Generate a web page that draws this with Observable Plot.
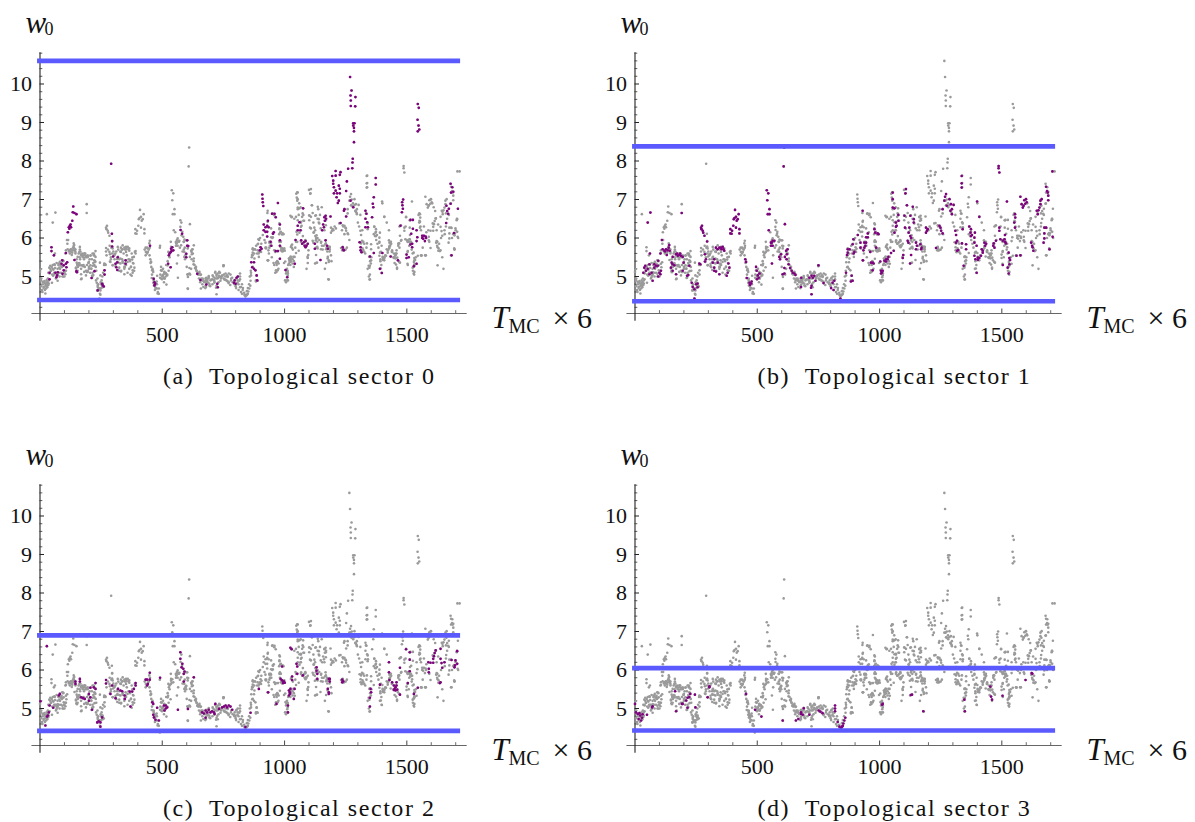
<!DOCTYPE html>
<html><head><meta charset="utf-8">
<script src="https://cdn.jsdelivr.net/npm/d3@7"></script>
<script src="https://cdn.jsdelivr.net/npm/@observablehq/plot@0.6"></script>
<style>
html,body{margin:0;padding:0;background:#fff;}
#page{position:relative;width:1195px;height:822px;overflow:hidden;}
.panel{position:absolute;width:595px;height:432px;}
.panel svg{display:block;background:transparent;}
.cap{position:absolute;top:362px;white-space:pre;font:24px "Liberation Serif",serif;letter-spacing:1.55px;line-height:28px;color:#111;}
</style></head><body><div id="page"></div>
<script>
const sector0 = [[39,5.1],[39,4.93],[47,5.76],[47,5.66],[57,5.55],[63,5.1],[70,5.03],[73,5.11],[67,4.98],[88,5.33],[91,5.42],[97,5.29],[97,5.16],[92,5.07],[106,5.33],[108,5.24],[111,5.37],[106,5.61],[114,6.15],[118,6.28],[122,6.32],[127,6.28],[120,6.24],[125,6.35],[132,6.45],[136,6.82],[134,6.67],[141,6.65],[149,6.62],[141,5.43],[149,5.14],[151,5.11],[211,4.96],[223,5.14],[236,4.64],[254,4.81],[257,4.77],[261,4.74],[264,5.16],[264,5.05],[291,7.93],[294,6.11],[295,5.92],[295,5.78],[299,5.52],[309,5.33],[316,5.37],[318,5.5],[312,5.24],[316,5.17],[350,5.42],[350,5.33],[450,5.8],[465,4.94],[468,4.85],[468,4.77],[471,4.81],[524,5.33],[527,5.55],[534,5.63],[536,5.72],[541,5.76],[534,5.24],[545,5.68],[530,5.6],[538,5.66],[575,6.21],[581,6.11],[602,5.94],[602,5.8],[598,5.59],[598,5.5],[606,5.79],[643,5.07],[656,4.91],[680,4.79],[725,4.81],[727,4.72],[796,4.9],[800,4.81],[804,4.97],[809,5],[793,4.84],[864,5.37],[875,5.37],[868,5.24],[875,5.2],[881,5.16],[886,5.03],[888,4.9],[899,5.68],[902,5.76],[906,5.72],[909,7.13],[910,7.02],[911,6.93],[913,6.83],[915,6.35],[922,6.28],[929,6.32],[915,6.2],[922,6.16],[929,6.16],[935,6.28],[932,6.45],[929,6.04],[943,5.9],[946,5.8],[949,6.63],[959,6.63],[964,6.54],[953,6.11],[956,6.15],[973,6.91],[981,6.35],[981,5.94],[981,5.8],[981,5.46],[964,5.66],[973,5.66],[1004,5.17],[1011,4.98],[1042,5.33],[1045,5.95],[1054,6.2],[1065,6.2],[1054,6.32],[1061,6.41],[1076,6.77],[1068,5.94],[1072,5.85],[1079,5.89],[1086,5.92],[1090,5.8],[1082,5.8],[1095,5.85],[1086,5.76],[1124,5.85],[1124,5.72],[1147,5.43],[1154,6.2],[1161,6.28],[1158,6.35],[1165,6.45],[1168,6.58],[1163,6.54],[1170,6.5],[1188,6.56],[1168,5.94],[1174,5.8],[1177,5.72],[1195,7.61],[1199,7.49],[1209,7.74],[1209,7.62],[1229,7.71],[1226,7.64],[1199,7.41],[1202,7.32],[1209,7.23],[1222,7.36],[1226,7.28],[1202,7.16],[1215,7.16],[1226,7.16],[1213,7.06],[1222,6.97],[1218,6.91],[1229,6.39],[1243,6.71],[1245,6.75],[1252,6.56],[1238,5.76],[1243,5.68],[1240,5.7],[1255,7.47],[1252,7.22],[1260,7.8],[1277,7.81],[1270,6.97],[1281,6.8],[1265,10.6],[1268,10.18],[1274,9.83],[1270,9.7],[1290,9.66],[1271,9.57],[1271,9.43],[1289,9.42],[1281,8.98],[1286,8.98],[1281,8.92],[1284,8.86],[1284,8.77],[1284,8.49],[1279,8.06],[1278,7.96],[1307,5.89],[1311,5.76],[1311,5.68],[1315,5.63],[1331,6.71],[1335,6.63],[1331,6.5],[1338,6.41],[1331,6.28],[1341,6.28],[1349,5.52],[1365,5.61],[1358,6.54],[1363,6.8],[1361,6.89],[1365,7.06],[1373,7.56],[1373,7.39],[1390,5.2],[1398,5.09],[1400,5.61],[1434,5.52],[1464,5.42],[1474,6.32],[1481,6.93],[1482,6.85],[1484,6.76],[1480,6.67],[1485,7],[1499,5.57],[1499,5.48],[1508,5.5],[1515,6.47],[1525,6.47],[1518,6.11],[1525,6.24],[1515,5.83],[1522,5.76],[1522,5.85],[1540,6.2],[1543,6.02],[1540,5.92],[1529,5.27],[1540,5.33],[1545,9.48],[1549,9.38],[1544,9.07],[1548,8.92],[1545,8.77],[1551,8.82],[1563,6.06],[1570,6.06],[1577,6.04],[1567,5.98],[1574,5.92],[1563,6],[1579,6],[1662,6.84],[1672,6.76],[1665,6.7],[1669,6.63],[1679,6.89],[1661,6.39],[1683,5.55],[1693,6.13],[1709,6.76],[1679,7.41],[1686,7.32],[1690,7.2],[1681,7.18]];
const sector1 = [[34,5.1],[38,5.23],[42,5.28],[45,5.15],[52,5.2],[59,5.32],[63,6.66],[52,6.4],[61,5.6],[59,5.06],[68,5.1],[72,4.89],[79,5.32],[86,5.28],[93,5.28],[79,5.23],[95,5.41],[100,5.1],[104,5.06],[95,5],[106,5.15],[104,5.6],[113,5.71],[110,5.95],[120,5.67],[127,5.71],[130,5.56],[123,5.65],[138,5.75],[140,5.82],[134,5.68],[142,5.67],[154,5.51],[150,5.36],[147,5.23],[154,5.15],[154,5.32],[168,5.58],[175,5.54],[181,5.56],[188,5.54],[185,5.6],[172,5.6],[195,5.51],[161,5.29],[168,5.06],[195,5.15],[199,5.36],[222,5.28],[213,5.02],[218,5.04],[191,6.65],[232,4.84],[236,4.73],[243,4.67],[250,4.8],[256,4.82],[256,4.72],[243,4.43],[263,5.34],[267,5.32],[270,6.27],[272,6.23],[277,6.19],[274,6.32],[279,6.14],[284,6.06],[295,5.91],[286,5.58],[290,5.45],[286,5.39],[318,5.36],[324,5.23],[324,5.15],[331,5.75],[338,5.71],[345,5.75],[352,5.75],[359,5.77],[365,5.67],[354,5.71],[362,5.71],[324,5.45],[338,5.36],[345,5.06],[331,5.13],[375,5.02],[379,5.1],[382,5.34],[386,5.23],[390,6.23],[397,6.19],[390,6.12],[395,6.11],[402,6.32],[413,6.27],[427,6.23],[404,6.49],[409,6.73],[413,6.55],[420,6.49],[424,6.62],[407,6.52],[416,6.45],[427,6.12],[451,5.45],[454,5.38],[457,4.96],[468,4.84],[475,4.82],[470,4.78],[477,4.87],[495,5.25],[498,5.15],[502,5.03],[506,4.97],[499,4.93],[509,5.08],[539,7.24],[545,7.16],[541,6.98],[550,6.75],[543,6.62],[550,6.62],[547,6.2],[556,5.8],[563,5.93],[570,5.93],[559,5.88],[563,5.8],[556,5.88],[560,5.34],[590,5.51],[597,5.58],[593,5.45],[608,7.86],[610,8.35],[613,6.36],[618,5.67],[624,5.71],[621,5.58],[620,5.45],[613,5.51],[604,5.06],[611,5.08],[611,5.22],[628,5.32],[634,5.22],[641,5.15],[645,5.1],[652,5.08],[656,5.04],[679,4.73],[680,4.97],[720,4.71],[722,4.76],[722,4.54],[713,4.97],[727,4.97],[733,5.02],[722,5.02],[738,4.89],[750,5.29],[771,4.83],[808,4.84],[815,4.89],[802,4.7],[812,4.65],[840,4.43],[863,5.1],[886,5.02],[890,4.89],[883,4.87],[870,5.71],[877,5.71],[870,5.62],[867,5.56],[890,5.84],[893,5.97],[897,5.64],[894,5.6],[911,6.08],[931,6.71],[922,5.88],[922,5.75],[938,5.88],[945,5.88],[942,5.8],[938,5.75],[934,5.68],[952,6.12],[952,6.02],[945,6.02],[992,6.12],[996,6.1],[979,6.23],[982,6.14],[986,5.75],[962,5.64],[932,5.42],[965,5.36],[972,5.36],[976,5.34],[972,5.16],[1006,5.15],[1013,5.15],[1006,5.08],[1009,5.1],[1003,5.39],[1020,5.41],[1027,5.45],[1033,5.45],[1027,5.39],[1036,5.51],[1047,5.61],[1054,7.18],[1054,7.01],[1054,6.79],[1061,6.77],[1067,6.4],[1070,6.32],[1061,6.14],[1067,6.29],[1077,6.6],[1077,6.45],[1058,5.67],[1097,5.56],[1095,5.48],[1102,6.58],[1104,6.27],[1108,7.27],[1106,7.16],[1112,6.85],[1118,5.88],[1119,6.14],[1122,6.27],[1126,6.05],[1126,6.58],[1136,6.81],[1140,6.49],[1140,6.4],[1115,5.93],[1129,5.56],[1125,5.34],[1129,6],[1149,5.88],[1149,5.71],[1153,5.8],[1167,5.84],[1172,5.75],[1170,5.71],[1190,6.27],[1194,6.19],[1197,6.23],[1190,6.14],[1231,5.74],[1245,6.32],[1252,6.19],[1258,6.12],[1249,6.27],[1258,6.75],[1265,6.97],[1272,7.14],[1268,7.07],[1275,6.84],[1286,7.01],[1290,6.71],[1296,6.75],[1296,6.62],[1303,6.86],[1292,6.88],[1310,6.19],[1313,6.08],[1317,5.93],[1313,5.88],[1317,5.67],[1322,5.69],[1336,7.61],[1336,7.42],[1336,7.31],[1340,6.23],[1337,5.86],[1354,5.84],[1354,5.71],[1344,5.28],[1367,6.3],[1374,6.23],[1372,6.14],[1374,6.05],[1378,6.08],[1388,6.01],[1390,6.14],[1388,5.88],[1399,6.95],[1408,6.55],[1397,5.8],[1397,5.1],[1388,5.54],[1392,5.45],[1402,5.49],[1408,5.48],[1415,5.54],[1402,5.43],[1422,5.62],[1418,5.71],[1429,5.88],[1436,5.85],[1432,5.8],[1422,5.67],[1467,5.86],[1470,5.75],[1476,5.93],[1465,5.8],[1487,7.87],[1487,7.81],[1490,7.7],[1490,6.27],[1490,6.19],[1494,5.97],[1504,5.93],[1513,6.08],[1511,5.97],[1513,5.9],[1517,5.86],[1521,6.95],[1524,5.23],[1504,5.3],[1528,5.62],[1531,5.48],[1534,5.43],[1531,5.32],[1528,5.08],[1554,6.62],[1555,6.53],[1551,6.4],[1554,6.27],[1560,5.54],[1576,5.55],[1576,7.07],[1581,6.88],[1586,6.79],[1592,6.98],[1599,7.01],[1596,6.89],[1589,6.84],[1602,6.93],[1620,5.88],[1624,5.8],[1626,5.76],[1629,5.67],[1643,6.71],[1647,6.62],[1650,6.72],[1654,6.79],[1658,6.97],[1663,7.01],[1658,6.88],[1674,6.27],[1681,6.27],[1674,6.12],[1674,5.99],[1671,5.88],[1681,7.33],[1685,7.22],[1688,7.18],[1690,7.1],[1690,6.98],[1695,5.71],[1708,6.03],[1707,7.73]];
const sector2 = [[2,5.19],[22,4.56],[29,4.79],[32,4.82],[36,4.9],[39,5.08],[54,5.02],[28,6.62],[77,5.34],[81,5.38],[145,5.7],[145,5.64],[163,5.77],[163,5.7],[168,5.29],[176,5.27],[183,5.25],[200,5.38],[206,5.29],[200,5.2],[206,5.54],[220,5.55],[227,5.66],[227,5.51],[213,4.97],[240,4.67],[247,4.64],[234,4.64],[254,4.77],[247,4.53],[270,5.74],[270,5.65],[295,5.6],[288,5.38],[309,5.27],[319,5.51],[329,5.47],[336,5.45],[346,5.34],[347,5.25],[367,5.44],[377,5.44],[384,5.51],[391,5.66],[391,5.6],[370,5.05],[432,5.75],[438,5.75],[449,5.75],[441,5.64],[438,5.6],[449,5.93],[459,5.16],[463,5.12],[463,4.84],[466,4.77],[472,4.71],[486,4.69],[479,5.02],[507,5.08],[514,5],[520,5.03],[514,5.08],[509,4.95],[491,5.8],[564,4.97],[605,4.99],[574,6.46],[574,6.29],[582,6.16],[579,6.07],[586,6.03],[588,5.9],[591,5.96],[588,5.7],[629,5.81],[663,4.9],[670,4.87],[677,4.95],[684,4.9],[690,4.97],[697,4.9],[704,4.93],[711,4.9],[677,4.76],[717,5.12],[714,4.86],[732,4.99],[745,5.03],[752,5.05],[759,5.08],[765,5.03],[772,5.08],[779,5.05],[786,4.97],[861,4.89],[840,4.52],[895,5.51],[933,5.42],[967,5.12],[990,6.09],[984,5.77],[990,5.73],[997,5.71],[994,5.66],[1001,5.67],[1024,6.58],[1029,6.54],[1031,5.83],[1031,5.74],[1049,6.16],[1052,6.09],[1052,5.9],[1075,5.86],[1018,5.47],[1022,5.42],[1024,5.51],[1018,5.34],[1022,5.38],[1041,5.51],[1038,5.25],[1014,5.08],[1014,4.9],[1131,6.07],[1131,5.98],[1134,5.9],[1134,5.77],[1177,5.51],[1181,5.42],[1181,5.38],[1185,5.77],[1185,5.7],[1181,5.77],[1236,5.75],[1240,5.71],[1236,5.68],[1352,5.51],[1354,5.42],[1349,5.28],[1349,5.05],[1390,5.62],[1427,6.2],[1427,5.94],[1429,5.74],[1440,5.68],[1447,5.6],[1450,5.51],[1454,5.55],[1458,5.6],[1461,5.49],[1454,5.47],[1447,5.48],[1458,5.68],[1472,6.06],[1472,5.36],[1497,6.54],[1512,6.46],[1512,6.27],[1512,5.97],[1504,5.66],[1529,5.38],[1545,5.54],[1588,6.2],[1597,6.19],[1608,6.19],[1590,6.03],[1590,5.94],[1638,6.55],[1638,6.29],[1642,6.18],[1618,6.51],[1614,6.44],[1611,6.36],[1608,6.29],[1638,5.68],[1635,5.66],[1654,6.2],[1645,6.06],[1683,6.26],[1706,6.49],[1699,6.25],[1697,6.12],[1706,6.16],[1695,6.07]];
const sector3 = [[0,5.12],[4,4.9],[11,4.86],[18,4.88],[21,4.82],[15,4.73],[25,4.69],[29,4.76],[31,4.85],[49,4.84],[72,5.06],[70,5.03],[164,5.45],[168,4.93],[192,5.12],[195,5.12],[209,5.21],[215,5.28],[222,5.3],[226,5.38],[215,5.02],[245,5.36],[247,5.03],[297,5.29],[304,5.55],[304,5.58],[454,5.38],[491,4.97],[517,4.79],[604,4.69],[658,4.69],[668,4.73],[679,4.9],[679,4.86],[686,4.84],[690,5.01],[713,4.84],[751,4.95],[758,4.92],[767,4.88],[818,5.08],[818,5],[818,4.93],[829,4.65],[836,4.53],[847,4.53],[850,4.55],[852,4.61],[856,4.69],[860,4.76],[843,4.5],[1010,5.1],[1013,5.12],[1128,5.35],[1133,5.36],[1179,4.93],[1347,5.23],[1349,4.93],[1453,5.57],[1456,5.31],[1460,5.23],[1503,5.33],[1597,5.74],[1622,5.92],[1625,5.9]];
const otherSectors = [[5,4.95],[5,4.75],[8,4.65],[10,4.6],[12,4.8],[15,4.7],[18,4.85],[20,4.65],[22,4.75],[25,4.8],[27,4.9],[30,4.72],[30,4.85],[32,4.95],[34,4.78],[36,4.82],[42,5.2],[45,5.15],[48,5.25],[50,5.05],[52,5.3],[55,5.18],[58,5.1],[60,5.3],[62,5.22],[65,4.95],[68,5.35],[72,5.2],[75,5.3],[78,5.1],[80,5],[82,5.2],[84,5.3],[86,5.1],[90,5.25],[92,5],[95,5.4],[98,5.1],[100,5],[104,5.15],[112,5.85],[115,5.95],[118,5.65],[122,5.6],[125,5.7],[128,5.65],[132,5.62],[135,5.75],[138,5.8],[142,5.7],[145,5.6],[150,5.45],[152,5.3],[155,5.25],[158,5.6],[160,5.35],[162,5.5],[165,5.65],[168,5.2],[170,4.95],[172,5.55],[175,5.5],[178,5.3],[180,5.45],[182,5.6],[185,5.5],[188,5.15],[190,5.5],[192,5.3],[195,5.55],[198,5.35],[200,5.25],[203,5.45],[205,5.1],[207,5.55],[210,5.2],[212,5.45],[215,5.1],[218,5.35],[220,5.6],[222,5.55],[225,5.4],[228,5.25],[230,5.15],[191,6.88],[235,4.95],[238,4.8],[240,4.7],[245,4.55],[248,4.85],[250,4.7],[252,4.9],[255,5],[258,5.1],[262,5.3],[268,5.3],[272,5.55],[278,5.7],[285,5.8],[290,5.5],[292,5.75],[298,5.3],[300,5.65],[305,5.45],[308,5.6],[312,5.65],[316,5.45],[320,5.7],[325,5.35],[328,5.65],[332,5.15],[335,5.7],[338,5.4],[342,5.6],[345,5.2],[348,5.7],[352,5.3],[355,5.55],[358,5.1],[362,5.45],[365,5.2],[368,5.4],[372,5.25],[375,5.6],[378,5.5],[380,5.35],[385,5.15],[428,5.7],[432,5.55],[445,5.7],[448,5.55],[452,5.35],[455,5.25],[458,5.05],[460,5.2],[463,4.95],[470,4.65],[474,4.7],[478,4.8],[482,4.6],[486,4.55],[490,4.38],[492,5.05],[496,4.95],[500,5],[503,5.2],[507,4.85],[510,4.95],[513,5.1],[516,5.3],[520,5.05],[522,5.4],[526,5.15],[490,5.75],[530,5.5],[535,5.9],[553,6.15],[558,5.85],[560,5.95],[565,5.55],[568,5.9],[572,5.75],[578,6.4],[583,5.65],[588,5.9],[592,5.75],[595,5.55],[600,5.25],[603,5.05],[605,4.68],[614,5.05],[618,5.2],[622,5.7],[625,5.6],[628,5.4],[632,5.3],[637,5.2],[640,5.15],[647,5.05],[650,4.95],[655,4.85],[660,4.95],[664,4.8],[668,4.9],[672,4.85],[676,4.7],[680,4.9],[685,4.85],[688,4.95],[692,4.82],[696,4.75],[700,4.92],[705,4.8],[708,5],[712,4.9],[716,5.1],[722,5.05],[726,4.95],[730,4.85],[736,5.1],[740,4.95],[745,5],[750,5.27],[754,4.92],[758,5],[762,4.9],[768,5],[772,4.85],[778,4.78],[782,4.95],[788,4.85],[795,4.8],[800,4.75],[812,4.8],[818,4.72],[822,4.6],[826,4.55],[830,4.7],[835,4.58],[838,4.5],[842,4.52],[846,4.62],[850,4.7],[855,4.8],[858,5],[862,5.15],[866,5.5],[870,5.55],[872,5.7],[876,5.6],[880,5.7],[884,5.8],[888,5.6],[892,5.85],[896,5.95],[900,6],[905,5.85],[918,5.95],[925,5.75],[930,6.65],[936,5.6],[940,5.8],[945,6.25],[948,5.5],[950,6],[955,5.35],[958,5.3],[962,5.1],[968,5.3],[970,5.4],[975,5.2],[978,6.1],[985,5.9],[990,5.65],[993,5.7],[998,5.35],[1002,4.9],[1006,4.85],[1010,5.2],[1015,5.3],[1020,5.45],[1024,5.3],[1028,5.8],[1030,6.55],[1034,5.7],[1038,5.4],[1040,6.5],[1044,5.75],[1048,7.15],[1050,7.05],[1052,7.19],[1052,6.97],[1054,6.75],[1058,6.6],[1060,6.9],[1066,6.8],[1072,6.55],[1075,6.05],[1080,6.45],[1085,5.95],[1090,5.2],[1095,5.35],[1100,7.25],[1105,7.15],[1108,6.55],[1112,6.85],[1115,6.65],[1118,6.4],[1120,6.15],[1125,6.2],[1130,5.75],[1135,6],[1138,6.75],[1142,5.95],[1145,6.6],[1148,6.25],[1150,5.9],[1152,6.8],[1156,5.7],[1160,5.8],[1165,5.2],[1170,5.35],[1175,5.65],[1180,5.75],[1181,4.92],[1184,5.65],[1190,5.55],[1192,5.4],[1200,6.2],[1205,6.3],[1210,6.25],[1235,6.2],[1240,6.3],[1245,6.1],[1250,5.7],[1255,5.75],[1260,6.1],[1265,5.95],[1272,6.85],[1275,7],[1280,6.9],[1285,6.85],[1290,6.7],[1295,6.65],[1300,6.4],[1305,6.3],[1310,6.6],[1318,6.2],[1322,5.9],[1326,5.85],[1330,5.6],[1335,5.75],[1338,7.62],[1338,7.43],[1338,7.32],[1340,5.2],[1345,5],[1348,4.92],[1350,5.4],[1355,5.5],[1365,6.1],[1370,6.05],[1375,5.95],[1380,5.85],[1384,5.75],[1392,5.4],[1396,5.3],[1400,6.9],[1404,5.45],[1408,5.5],[1412,5.55],[1418,6.4],[1425,5.7],[1430,5.8],[1435,5.85],[1440,5.65],[1445,5.5],[1450,5.35],[1455,5.6],[1460,5.2],[1465,5.85],[1470,6.3],[1478,5.95],[1495,6.3],[1500,5.95],[1505,5.9],[1510,5.8],[1515,5.85],[1520,5.7],[1525,5.15],[1530,5.05],[1532,5.3],[1537,5.5],[1548,6.6],[1552,6.45],[1556,6.3],[1560,5.55],[1565,5.75],[1570,6.3],[1575,5.55],[1580,6.15],[1590,6.85],[1597,7],[1604,6.9],[1610,6.8],[1616,6.7],[1622,6.2],[1628,6.35],[1632,5.85],[1640,6],[1645,5.5],[1650,5.2],[1655,6.1],[1660,6.3],[1665,6.5],[1672,6.6],[1680,6.9],[1685,6],[1690,6.1],[1695,5.7],[1700,6.2],[1705,6.5],[1710,6],[1716,7.73]];
const otherEarly = [[106,5.68],[120,5.68],[138,5.86],[140,5.73],[161,5.64],[168,5.55],[181,5.6],[195,5.51],[215,5.6],[222,5.42],[147,5.21],[161,5.34],[175,5.29],[181,5.12],[188,5.03],[229,4.9],[236,4.77],[250,4.82],[243,4.69],[256,4.73],[284,5.64],[297,5.73],[318,5.77],[338,5.81],[352,5.77],[365,5.73],[331,5.64],[352,5.64],[318,5.47],[329,5.34],[345,5.25],[358,5.38],[372,5.25],[379,5.16],[388,5.64],[433,5.64],[440,5.73],[447,5.86],[461,5.16],[465,4.9],[470,4.76],[478,4.69],[481,4.56],[495,5.16],[502,5.03],[508,5.12],[515,5.08],[522,5.29],[525,5.64],[536,5.77],[556,5.9],[577,5.81],[597,5.94],[563,5.99],[590,5.64],[604,5.73],[620,5.64],[629,5.47],[638,5.25],[652,5.12],[658,5.05],[665,4.95],[693,4.77],[706,5.03],[720,4.95],[727,5.08],[733,5.12],[740,4.99],[751,5.29],[767,4.99],[781,4.9],[795,4.82],[802,4.95],[808,4.9],[822,4.73],[826,4.8],[863,5.03],[870,5.25],[877,5.47],[870,5.73],[890,5.68],[904,5.64],[883,4.9]];
const otherLate = [[931,6.42],[928,6.29],[958,6.59],[951,6.64],[979,6.38],[979,6.25],[985,6.16],[1047,6.55],[1054,6.46],[1067,6.42],[1067,6.2],[1074,6.64],[1101,6.59],[1101,6.46],[1108,6.25],[1128,6.59],[1135,6.5],[1142,6.38],[1163,6.55],[1169,6.46],[1169,6.33],[1163,6.2],[1224,6.38],[1238,6.33],[1251,6.25],[1258,6.64],[1292,6.68],[1333,6.64],[1340,6.38],[1367,6.29],[1374,6.16],[1408,6.55],[1476,6.33],[1497,6.55],[1513,6.46],[1551,6.64],[1554,6.42],[1558,6.2],[1606,6.38],[1619,6.51],[1646,6.68],[1660,6.64],[1704,6.46],[938,5.9],[924,5.73],[958,5.68],[979,5.9],[985,5.68],[999,5.73],[972,5.38],[965,5.16],[931,5.42],[1019,5.47],[1026,5.51],[1033,5.34],[1013,5.03],[1010,4.9],[1026,5.77],[1047,5.9],[1067,5.9],[1081,5.9],[1088,5.81],[1098,5.68],[1094,5.51],[1128,5.94],[1135,5.73],[1169,5.86],[1183,5.73],[1176,5.47],[1238,5.77],[1240,5.68],[1313,5.86],[1319,5.73],[1326,5.64],[1347,5.51],[1353,5.34],[1388,5.9],[1394,5.64],[1401,5.51],[1408,5.42],[1394,5.21],[1435,5.9],[1428,5.77],[1439,5.64],[1469,5.86],[1469,5.38],[1503,5.9],[1517,5.9],[1503,5.64],[1524,5.6],[1531,5.42],[1527,5.25],[1531,5.12],[1558,5.55],[1578,5.55],[1626,5.29],[1630,5.73],[1694,5.73],[1681,5.55],[1592,5.9]];

const sectorPoints = [sector0, sector1, sector2, sector3];
const bandLower = [4.39, 4.36, 4.42, 4.43];
const bandUpper = [10.6, 8.38, 6.9, 6.05];
const captions = ["(a)  Topological sector 0","(b)  Topological sector 1","(c)  Topological sector 2","(d)  Topological sector 3"];
const xMajor = [500,1000,1500];
const xMinor = [100,200,300,400,600,700,800,900,1100,1200,1300,1400,1600,1700];
const yMajor = [5,6,7,8,9,10];
const yMinor = [4.2,4.4,4.6,4.8,5.2,5.4,5.6,5.8,6.2,6.4,6.6,6.8,7.2,7.4,7.6,7.8,8.2,8.4,8.6,8.8,9.2,9.4,9.6,9.8,10.2,10.4,10.6,10.8];

const FONT = '"Liberation Serif", serif';
const ML = 39.5, MT = 52.3, W = 595, H = 362, frameW = 427.2, frameH = 268.4;
const xDomain = [0, 1747], yDomain = [3.84, 10.81], axisY = 4.04;
const everyPoint = sectorPoints.flat().concat(otherSectors, otherEarly, otherLate);
const pxX = (xDomain[1] - xDomain[0]) / frameW, pxY = (yDomain[1] - yDomain[0]) / frameH;

function label(text, px, py, size, italic) {
  return Plot.text([text], {text: d => d, frameAnchor: "top-left", dx: px - ML, dy: py - MT,
    textAnchor: "start", lineAnchor: "bottom", fontSize: size, fontFamily: FONT,
    fontStyle: italic ? "italic" : "normal", fill: "#111"});
}

const page = document.getElementById("page");
sectorPoints.forEach((pts, i) => {
  const chart = Plot.plot({
    width: W, height: H, marginLeft: ML, marginTop: MT, marginRight: W - ML - frameW, marginBottom: H - MT - frameH,
    style: {fontFamily: FONT, fontSize: "22px", color: "#111", background: "transparent", overflow: "visible"},
    x: {domain: xDomain, axis: null},
    y: {domain: yDomain, axis: null},
    marks: [
      Plot.axisX({ticks: xMajor, tickSize: 0, tickPadding: 5, fontSize: 22, fill: "#111", label: null, tickFormat: d => String(d)}),
      Plot.axisY({ticks: yMajor, tickSize: 0, tickPadding: 8, fontSize: 22, fill: "#111", label: null, tickFormat: d => String(d)}),
      Plot.ruleY([axisY], {x1: -33, x2: xDomain[1], stroke: "#666", strokeWidth: 1.2}),
      Plot.ruleX([0], {y1: yDomain[0], y2: yDomain[1], stroke: "#222", strokeWidth: 1.1}),
      Plot.ruleX(xMajor, {y1: axisY, y2: axisY + 4.5 * pxY, stroke: "#555", strokeWidth: 1.1}),
      Plot.ruleX(xMinor, {y1: axisY, y2: axisY + 2.8 * pxY, stroke: "#444", strokeWidth: 0.8}),
      Plot.ruleY(yMajor, {x1: 0, x2: 4.5 * pxX, stroke: "#222", strokeWidth: 1}),
      Plot.ruleY(yMinor, {x1: 0, x2: 2.8 * pxX, stroke: "#333", strokeWidth: 0.8}),
      Plot.dot(everyPoint, {x: d => d[0], y: d => d[1], r: 1.3, fill: "#9a9a9a", stroke: "none"}),
      Plot.dot(pts, {x: d => d[0], y: d => d[1], r: 1.3, fill: "#800080", stroke: "none"}),
      Plot.ruleY([bandLower[i], bandUpper[i]], {x1: -10, x2: 1720, stroke: "#5a5aff", strokeWidth: 4.6}),
      label("w", 25, 32, 31, true),
      label("0", 44, 34, 18, false),
      label("T", 491, 327, 31, true),
      label("MC", 508, 332, 20, false),
      label("× 6", 552, 327, 30, false)
    ]
  });
  const div = document.createElement("div");
  div.className = "panel";
  div.style.left = (i % 2 ? 594.5 : 0) + "px";
  div.style.top = (i > 1 ? 431.5 : 0) + "px";
  div.appendChild(chart);
  const cap = document.createElement("div");
  cap.className = "cap";
  cap.style.left = "163px";
  cap.textContent = captions[i];
  div.appendChild(cap);
  page.appendChild(div);
});
</script></body></html>
